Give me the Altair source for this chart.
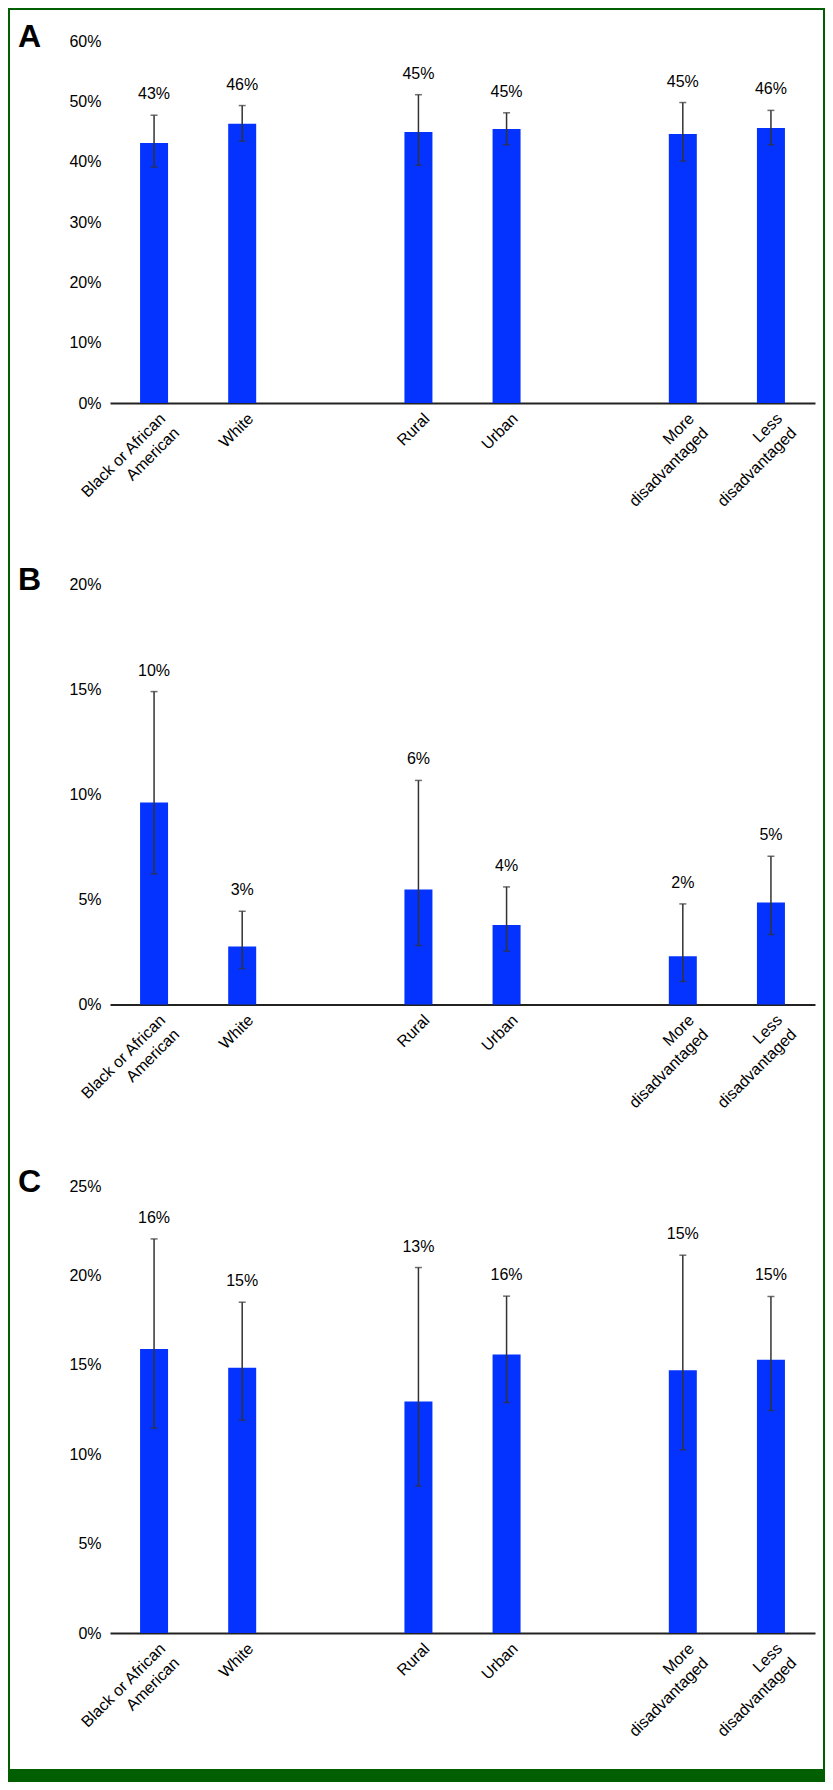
import altair as alt
import pandas as pd

# ---- data ----
categories = ["Black or African|American", "White", "Rural", "Urban",
              "More|disadvantaged", "Less|disadvantaged"]
# x slots (blank slots separate the three groups)
slots = ["Black or African|American", "White", " ", "Rural", "Urban", "  ",
         "More|disadvantaged", "Less|disadvantaged"]

a_values = [43.1, 46.3, 44.9, 45.4, 44.6, 45.6]
a_lower = [39.1, 43.4, 39.4, 42.8, 40.1, 42.8]
a_upper = [47.7, 49.3, 51.1, 48.1, 49.8, 48.5]
a_labels = ["43%", "46%", "45%", "45%", "45%", "46%"]
a_ticks = [0, 10, 20, 30, 40, 50, 60]

b_values = [9.62, 2.76, 5.48, 3.78, 2.30, 4.86]
b_lower = [6.22, 1.71, 2.81, 2.54, 1.10, 3.33]
b_upper = [14.9, 4.44, 10.67, 5.60, 4.79, 7.06]
b_labels = ["10%", "3%", "6%", "4%", "2%", "5%"]
b_ticks = [0, 5, 10, 15, 20]

c_values = [15.89, 14.83, 12.95, 15.57, 14.70, 15.28]
c_lower = [11.46, 11.9, 8.22, 12.89, 10.25, 12.44]
c_upper = [22.04, 18.50, 20.44, 18.84, 21.13, 18.82]
c_labels = ["16%", "15%", "13%", "16%", "15%", "15%"]
c_ticks = [0, 5, 10, 15, 20, 25]

BLUE = "#0433FF"
GREEN = "#015F01"
ERR = "#333333"
FONT = "Liberation Sans"
W = 705


def panel(letter, values, lower, upper, labels, ymax, ticks, height, frame=False):
    df = pd.DataFrame({"group": categories, "value": values, "lo": lower,
                       "hi": upper, "label": labels})
    base = alt.Chart(df)
    xs = alt.Scale(domain=slots, paddingInner=0, paddingOuter=0)
    x_axis = alt.Axis(title=None, labelAngle=-45, labelAlign="right", labelBaseline="top",
                      labelExpr="split(datum.label, '|')", ticks=False,
                      domainColor="#222222", domainWidth=2, labelFontSize=16,
                      labelColor="black", labelPadding=7, labelOffset=3,
                      labelLineHeight=20, labelFont=FONT, labelOverlap=False,
                      labelLimit=0, grid=False)
    ys = alt.Scale(domain=[0, ymax], nice=False, zero=True)
    y_axis = alt.Axis(title=None, values=ticks, labelExpr="datum.value + '%'",
                      domain=False, ticks=False, grid=False, labelFontSize=16,
                      labelPadding=9, labelColor="black", labelFont=FONT)

    xenc = alt.X("group:N", scale=xs, sort=slots, axis=x_axis)
    x2 = alt.X("group:N", scale=xs, sort=slots, title=None)

    bars = base.mark_bar(size=28, color=BLUE).encode(
        x=xenc, y=alt.Y("value:Q", scale=ys, axis=y_axis))
    rule = base.mark_rule(color=ERR, strokeWidth=1.5).encode(
        x=x2, y=alt.Y("lo:Q", title=None), y2="hi:Q")
    cap_hi = base.mark_tick(orient="horizontal", size=7, thickness=1.5, color=ERR).encode(
        x=x2, y=alt.Y("hi:Q", title=None))
    cap_lo = base.mark_tick(orient="horizontal", size=7, thickness=1.5, color=ERR).encode(
        x=x2, y=alt.Y("lo:Q", title=None))
    text = base.mark_text(dy=-16, baseline="alphabetic", fontSize=16, font=FONT,
                          color="black").encode(
        x=x2, y=alt.Y("hi:Q", title=None), text="label:N")
    let = alt.Chart(pd.DataFrame({"letter": [letter]})).mark_text(
        align="left", baseline="alphabetic", fontSize=32, fontWeight="bold",
        font=FONT, color="black").encode(
        x=alt.value(-92), y=alt.value(5.5), text="letter:N")

    layers = [bars, rule, cap_hi, cap_lo, text, let]
    if frame:
        fd = pd.DataFrame({"k": [0]})
        border = alt.Chart(fd).mark_rect(fillOpacity=0, stroke=GREEN, strokeWidth=2).encode(
            x=alt.value(-101), x2=alt.value(714), y=alt.value(-32), y2=alt.value(1740))
        band = alt.Chart(fd).mark_rect(color=GREEN).encode(
            x=alt.value(-101), x2=alt.value(714), y=alt.value(1728), y2=alt.value(1740))
        layers = [border, band] + layers
    return alt.layer(*layers).properties(width=W, height=height)


pa = panel("A", a_values, a_lower, a_upper, a_labels, 60, a_ticks, 362, frame=True)
pb = panel("B", b_values, b_lower, b_upper, b_labels, 20, b_ticks, 420)
pc = panel("C", c_values, c_lower, c_upper, c_labels, 25, c_ticks, 447)

chart = alt.vconcat(pa, pb, pc, spacing=181.5, bounds="flush").properties(
    padding=0, background="white"
).configure_view(stroke=None)

chart.save("out.html", embed_options={"renderer": "svg", "actions": False})
